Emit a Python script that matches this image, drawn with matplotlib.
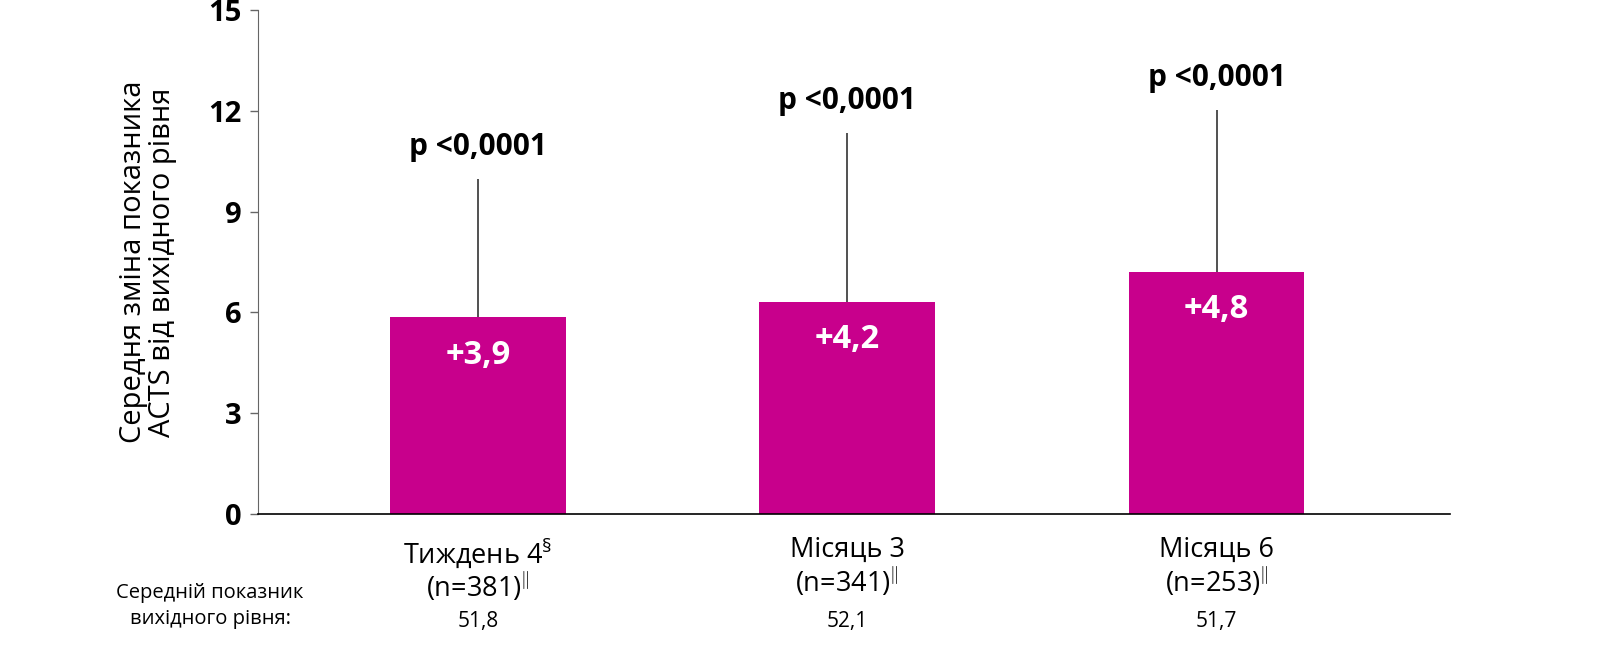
import numpy as np
import matplotlib.pyplot as plt

plt.rcParams['font.family'] = ['Open Sans', 'DejaVu Sans']
plt.rcParams['mathtext.fontset'] = 'custom'
plt.rcParams['mathtext.rm'] = 'Open Sans'
plt.rcParams['mathtext.bf'] = 'Open Sans:bold'

categories = ["Тиждень 4$^{\\S}$\n(n=381)$^{\\|}$",
              "Місяць 3\n(n=341)$^{\\|}$",
              "Місяць 6\n(n=253)$^{\\|}$"]
bar_heights = [5.85, 6.3, 7.2]
err_tops = [9.97, 11.33, 12.02]
bar_labels = ["+3,9", "+4,2", "+4,8"]
p_labels = ["p <0,0001", "p <0,0001", "p <0,0001"]
baseline = ["51,8", "52,1", "51,7"]

color = "#C8008C"

fig = plt.figure(figsize=(16, 6.49), dpi=100)
ax = fig.add_axes([0.16125, 0.208, 0.745, 0.7766])

x = np.arange(len(bar_heights))
upper = np.array(err_tops) - np.array(bar_heights)
ax.bar(x, bar_heights, width=0.476, color=color, zorder=2)
ax.errorbar(x, bar_heights, yerr=[np.zeros(len(x)), upper], fmt='none',
            ecolor='#333333', elinewidth=1.2, capsize=0, zorder=1)

for i in range(len(x)):
    ax.text(x[i], bar_heights[i] - 1.12, bar_labels[i], ha='center', va='center',
            color='white', fontsize=23.5, fontweight='bold')
    ax.text(x[i], err_tops[i] + 0.95, p_labels[i], ha='center', va='center',
            color='black', fontsize=21.5, fontweight='bold')

ax.set_xlim(-0.595, 2.632)
ax.set_ylim(0, 15)
ax.set_yticks([0, 3, 6, 9, 12, 15])
ax.set_xticks(x)
ax.set_xticklabels(categories, fontsize=19.5, linespacing=1.05)
ax.tick_params(axis='x', length=0, pad=16)
ax.tick_params(axis='y', length=6, width=1, color='#666666', labelsize=21, pad=6)
for lab in ax.get_yticklabels():
    lab.set_fontweight('bold')

ax.spines['top'].set_visible(False)
ax.spines['right'].set_visible(False)
ax.spines['left'].set_color('#666666')
ax.spines['bottom'].set_color('black')
ax.spines['bottom'].set_linewidth(1.2)

ax.set_ylabel("Середня зміна показника\nACTS від вихідного рівня", fontsize=21,
              labelpad=22, linespacing=1.0)

for i in range(len(x)):
    ax.text(x[i], -3.2, baseline[i], ha='center', va='center', fontsize=15)
fig.text(210 / 1600, 1 - 606 / 649, "Середній показник\nвихідного рівня:", ha='center',
         va='center', fontsize=14.5, linespacing=1.35)

plt.savefig('out.png', dpi=100)
